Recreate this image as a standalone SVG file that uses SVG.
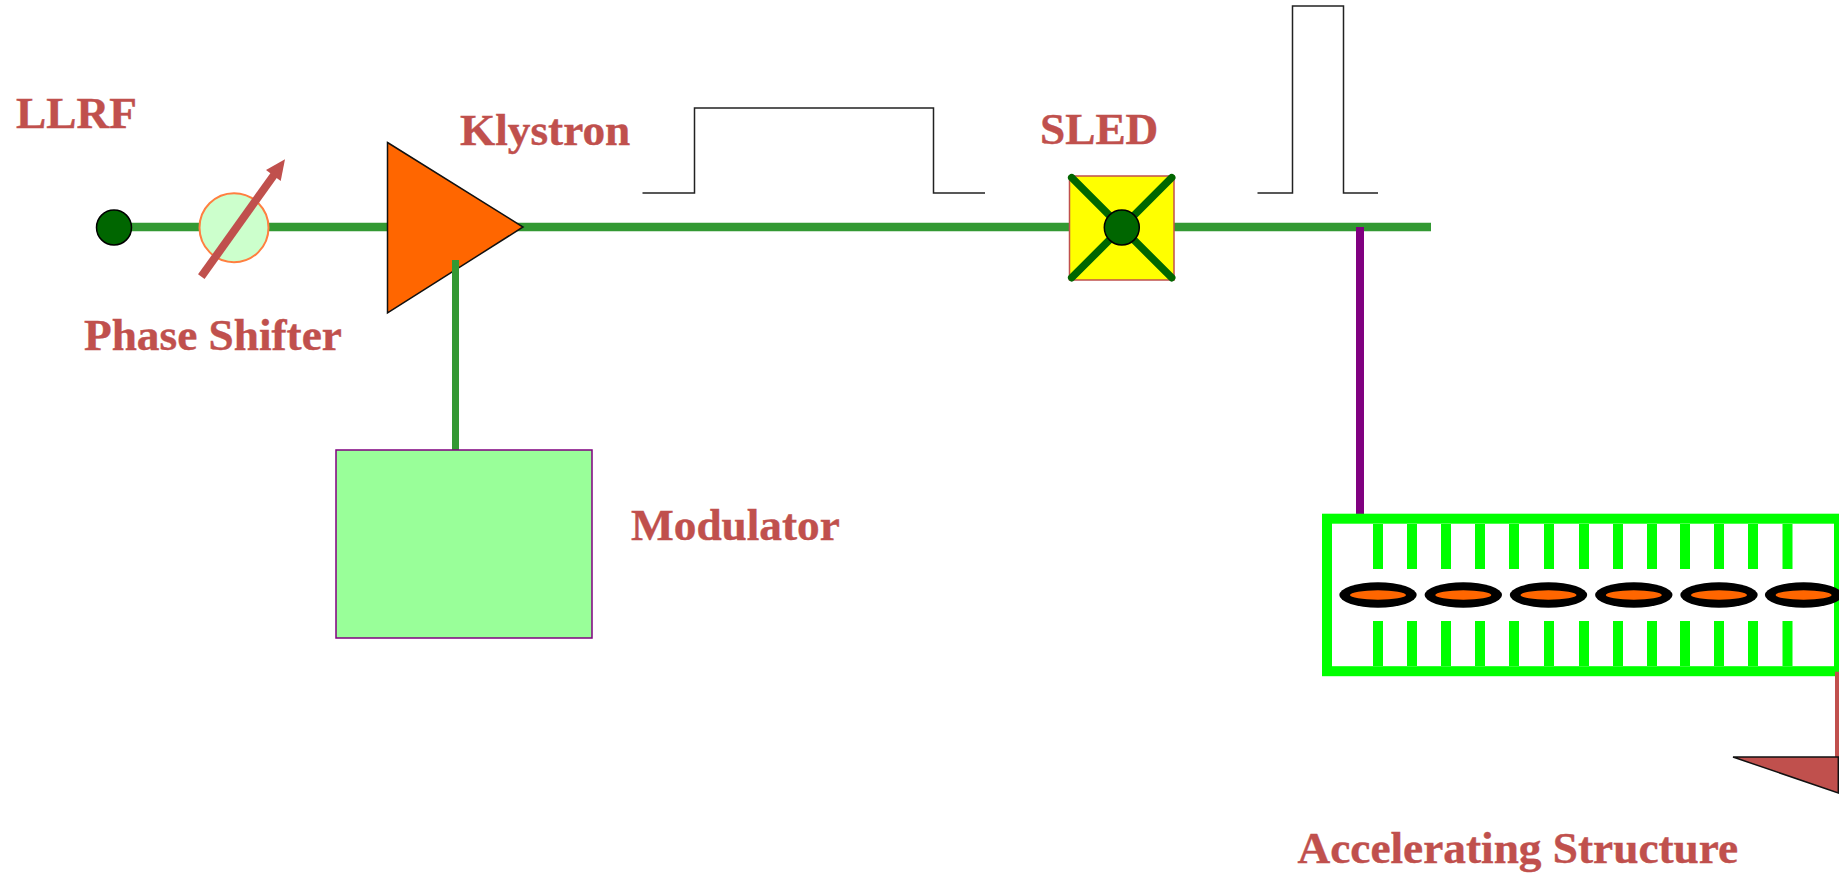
<svg xmlns="http://www.w3.org/2000/svg" width="1839" height="876" viewBox="0 0 1839 876">
<style>
.t{font-family:"Liberation Serif","Times New Roman",serif;font-weight:bold;font-size:45.3px;fill:#c0504d;stroke:#c0504d;stroke-width:.4}
.rf{stroke:#339933;stroke-width:8.5;fill:none}
.pulse{stroke:#222;stroke-width:1.5;fill:none}
.x{stroke:#006600;stroke-width:7.5;stroke-linecap:round}
.dot{fill:#006600;stroke:#000;stroke-width:1.5}
.fin{stroke:#00ff00;stroke-width:10}
.bo{fill:#000}
.bi{fill:#ff6600}
</style>
<rect width="1839" height="876" fill="#fff"/>
<g id="connectors">
<path class="rf" d="M114 227H1431"/>
<path class="rf" style="stroke-width:7" d="M455.5 260V450"/>
<path d="M1360 227V514" stroke="#800080" stroke-width="8" fill="none"/>
</g>
<g id="llrf">
<circle class="dot" cx="114" cy="227.5" r="17.500"/>
<text class="t" x="16" y="128">LLRF</text>
</g>
<g id="phase-shifter">
<circle cx="234" cy="227.700" r="34.500" fill="#ccffcc" stroke="#ff7f40" stroke-width="2"/>
<path d="M201.300 276.700L274 175" stroke="#c0504d" stroke-width="8" fill="none"/>
<path d="M285 159.300L280.700 181L266 170Z" fill="#c0504d"/>
<text class="t" x="84" y="350">Phase Shifter</text>
</g>
<g id="klystron">
<path d="M387.500 142.500L523 227L387.500 313Z" fill="#ff6600" stroke="#111" stroke-width="1.500"/>
<path class="rf" style="stroke-width:7" d="M455.500 260V310"/>
<text class="t" x="460" y="145">Klystron</text>
</g>
<g id="modulator">
<rect x="336" y="450" width="256" height="188" fill="#99ff99" stroke="#800080" stroke-width="1.500"/>
<text class="t" x="631" y="540">Modulator</text>
</g>
<g id="sled">
<rect x="1069.500" y="176" width="104.500" height="104" fill="#ffff00" stroke="#c0504d" stroke-width="1.500"/>
<path class="x" d="M1071.700 177.700L1171.700 277.700M1171.700 177.700L1071.700 277.700"/>
<circle class="dot" cx="1121.800" cy="227.500" r="17.500"/>
<text class="t" x="1040" y="144">SLED</text>
</g>
<g id="pulses">
<path class="pulse" d="M642.500 193H694.500V108H933.500V193H985"/>
<path class="pulse" d="M1257.500 193H1292.500V6H1343.500V193H1378"/>
</g>
<g id="accelerating-structure">
<rect x="1327" y="518.700" width="512" height="152.500" fill="none" stroke="#00ff00" stroke-width="10"/>
<path d="M1839 513.700H1844V676.200H1839Z" fill="#00ff00"/>
<path class="fin" d="M1378 524V569M1412 524V569M1446 524V569M1480 524V569M1514 524V569M1549 524V569M1584 524V569M1618 524V569M1652 524V569M1685 524V569M1719 524V569M1753 524V569M1787.500 524V569"/>
<path class="fin" d="M1378 621V666M1412 621V666M1446 621V666M1480 621V666M1514 621V666M1549 621V666M1584 621V666M1618 621V666M1652 621V666M1685 621V666M1719 621V666M1753 621V666M1787.500 621V666"/>
<ellipse class="bo" cx="1378" cy="595" rx="38.700" ry="12.700"/><ellipse class="bi" cx="1378" cy="595" rx="28" ry="4.700"/>
<ellipse class="bo" cx="1463.300" cy="595" rx="38.700" ry="12.700"/><ellipse class="bi" cx="1463.300" cy="595" rx="28" ry="4.700"/>
<ellipse class="bo" cx="1548.500" cy="595" rx="38.700" ry="12.700"/><ellipse class="bi" cx="1548.500" cy="595" rx="28" ry="4.700"/>
<ellipse class="bo" cx="1633.800" cy="595" rx="38.700" ry="12.700"/><ellipse class="bi" cx="1633.800" cy="595" rx="28" ry="4.700"/>
<ellipse class="bo" cx="1719" cy="595" rx="38.700" ry="12.700"/><ellipse class="bi" cx="1719" cy="595" rx="28" ry="4.700"/>
<ellipse class="bo" cx="1803.600" cy="595" rx="38.700" ry="12.700"/><ellipse class="bi" cx="1803.600" cy="595" rx="28" ry="4.700"/>
<text class="t" x="1297.500" y="863">Accelerating Structure</text>
</g>
<g id="load">
<path d="M1835 671.700H1841V757H1835Z" fill="#c0504d"/>
<path d="M1733 757H1838.300V793Z" fill="#c0504d" stroke="#111" stroke-width="1.500"/>
</g>
</svg>
